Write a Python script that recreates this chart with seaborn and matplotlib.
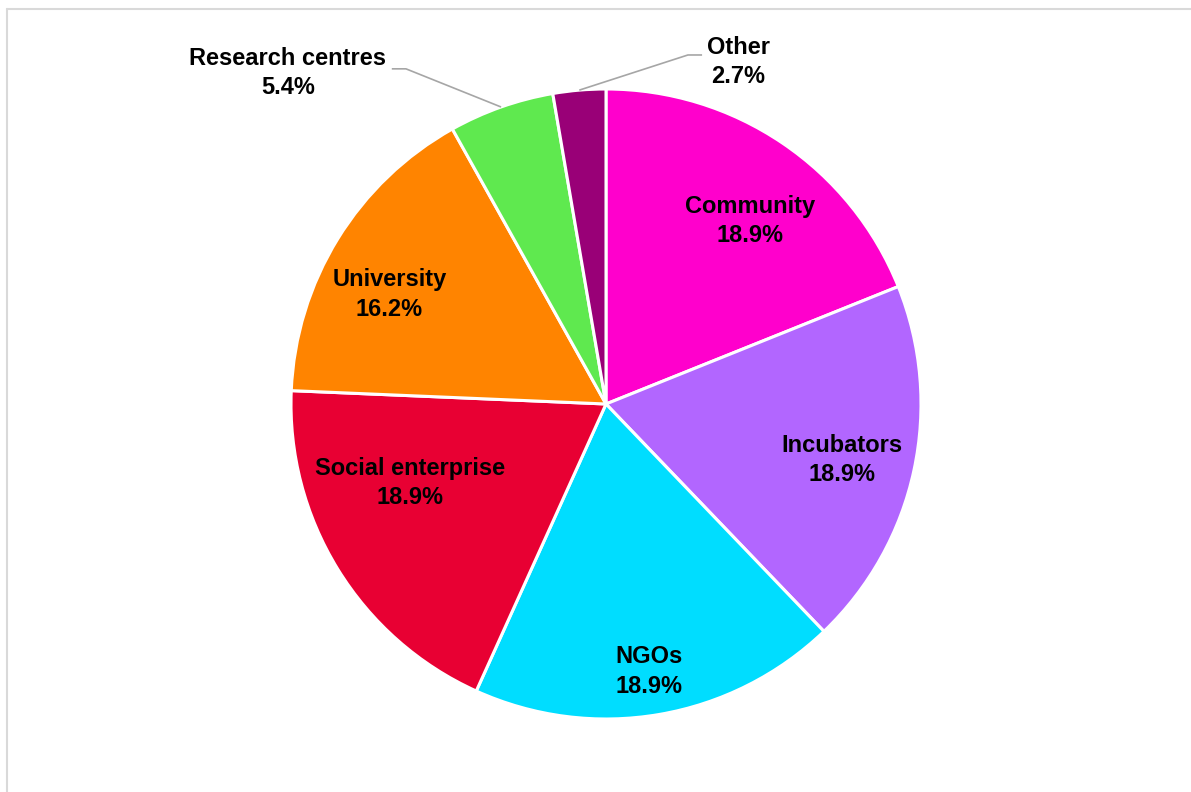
import matplotlib.pyplot as plt
import matplotlib.lines as mlines
import numpy as np
import seaborn as sns

# data
categories = ["Community", "Incubators", "NGOs", "Social enterprise",
              "University", "Research centres", "Other"]
shares = [18.9, 18.9, 18.9, 18.9, 16.2, 5.4, 2.7]
colors = ["#FF00CC", "#B266FF", "#00DDFF", "#E80033",
          "#FF8400", "#5FE94F", "#990077"]

# label layout: radius (pie radius = 1) and angle nudge in degrees, None = outside
label_r = [0.74, 0.77, 0.86, 0.67, 0.77, None, None]
label_dtheta = [-4.1, -1.2, -0.6, -9.6, 4.8, 0, 0]
# outside labels: text position and elbow of the leader line
outside = {
    "Research centres": {"text": (-1.01, 1.05), "elbow": (-0.635, 1.064), "end": (-0.68, 1.064)},
    "Other": {"text": (0.42, 1.085), "elbow": (0.26, 1.108), "end": (0.305, 1.108)},
}

sns.set_theme(style="white")
plt.rcParams['font.family'] = ['Liberation Sans', 'DejaVu Sans']

W, H = 1191, 792
cx, cy, R = 606, 404, 315
fig = plt.figure(figsize=(W / 100, H / 100), dpi=100)
ax = fig.add_axes([0, 0, 1, 1])

wedges, _ = ax.pie(shares, colors=colors, startangle=90, counterclock=False,
                   radius=1, wedgeprops=dict(edgecolor="white", linewidth=2.2))

for w, cat, val, r, dt in zip(wedges, categories, shares, label_r, label_dtheta):
    mid = np.deg2rad((w.theta1 + w.theta2) / 2 + dt)
    txt = f"{cat}\n{val:.1f}%"
    if r is not None:
        ax.text(r * np.cos(mid), r * np.sin(mid), txt, ha="center", va="center",
                fontsize=17, fontweight="bold", color="black", linespacing=1.35)
    else:
        o = outside[cat]
        ex, ey = np.cos(mid), np.sin(mid)
        ax.plot([ex, o["elbow"][0], o["end"][0]], [ey, o["elbow"][1], o["end"][1]],
                color="#A6A6A6", lw=1.2, solid_capstyle="butt")
        ax.text(o["text"][0], o["text"][1], txt, ha="center", va="center",
                fontsize=17, fontweight="bold", color="black", linespacing=1.35)

ax.set_xlim((0 - cx) / R, (W - cx) / R)
ax.set_ylim((cy - H) / R, cy / R)
ax.set_aspect("equal")
ax.axis("off")

# chart area frame (left and top edges visible)
fig.add_artist(mlines.Line2D([6.5 / W, 6.5 / W], [0, 1 - 9 / H], color="#D9D9D9", lw=1.5))
fig.add_artist(mlines.Line2D([6.5 / W, 1], [1 - 9 / H, 1 - 9 / H], color="#D9D9D9", lw=1.5))

fig.savefig("out.png", dpi=100)
